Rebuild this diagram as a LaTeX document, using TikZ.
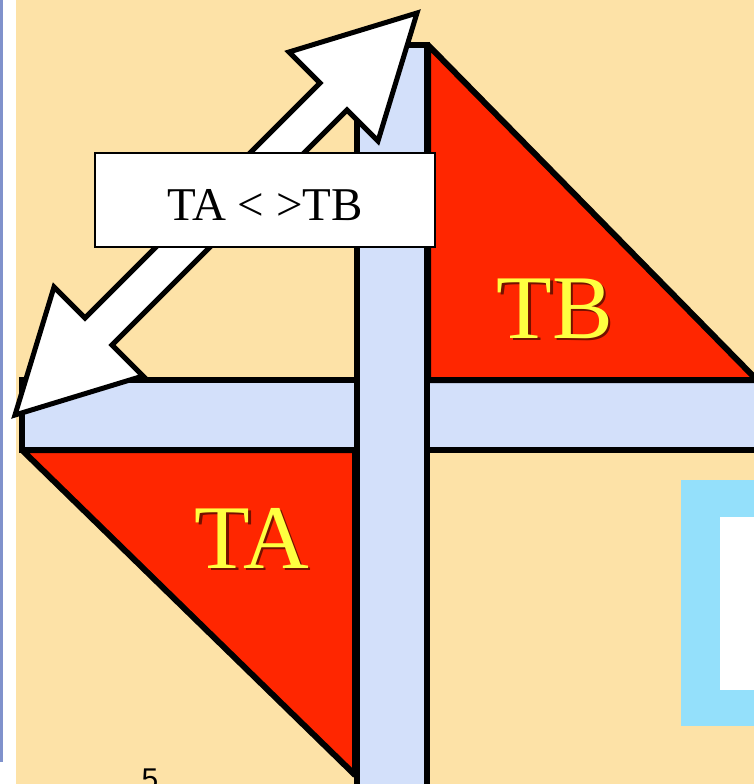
\documentclass[tikz,border=0pt]{standalone}
\usepackage{fontspec}
\setmainfont{Liberation Serif}
\setsansfont{Liberation Sans}
\definecolor{slidebg}{RGB}{253,226,167}
\definecolor{beamblue}{RGB}{211,224,250}
\definecolor{wedgered}{RGB}{255,38,0}
\definecolor{labelyellow}{RGB}{255,255,64}
\definecolor{framecyan}{RGB}{148,224,251}
\definecolor{edgeblue}{RGB}{128,146,204}
\newcommand{\shadowtext}[1]{\makebox[0pt][l]{\kern2.5pt\raisebox{-2.5pt}{\textcolor{wedgered!45!black}{#1}}}#1}

\begin{document}
\begin{tikzpicture}[x=1pt, y=-1pt,
    beam/.style={fill=beamblue, draw=black, line width=6pt},
    wedge/.style={fill=wedgered, draw=black, line width=6pt, line join=round},
    biglabel/.style={font=\fontsize{91}{96}\selectfont, anchor=base, text=labelyellow}]
  \useasboundingbox (0,0) rectangle (754,784);
  \clip (0,0) rectangle (754,784);
  % slide background
  \fill[slidebg] (0,0) rectangle (754,784);
  \fill[white] (0,0) rectangle (16,784);
  \fill[edgeblue] (0,0) rectangle (3,762);
  \fill[framecyan] (681,480) rectangle (760,726);
  \fill[white] (720,517) rectangle (760,690);
  \node[font=\sffamily\fontsize{30}{32}\selectfont, anchor=base] (pagenum) at (150,789) {5};
  % beams and the two wedges
  \draw[beam] (22,380) rectangle (800,450);
  \draw[wedge] (428,45) -- (428,380) -- (757,380) -- cycle;
  \draw[wedge] (22,450) -- (355,450) -- (355,775) -- cycle;
  \draw[beam] (357,45) rectangle (427,800);
  % double arrow
  \draw[fill=white, line width=5pt] (15,415) -- (54,287) -- (85,318) -- (320,83) -- (289,52)
    -- (417,13) -- (378,141) -- (347,110) -- (112,345) -- (143,376) -- cycle;
  \node[draw=black, fill=white, line width=1.3pt, minimum width=340pt, minimum height=94pt,
    inner sep=0pt, text height=40pt, text depth=0pt, font=\fontsize{47}{50}\selectfont]
    (rel) at (265,200) {TA < >TB};
  % labels
  \node[biglabel] (ta) at (252,568) {\shadowtext{TA}};
  \node[biglabel] (tb) at (555,338) {\shadowtext{TB}};
\end{tikzpicture}
\end{document}
